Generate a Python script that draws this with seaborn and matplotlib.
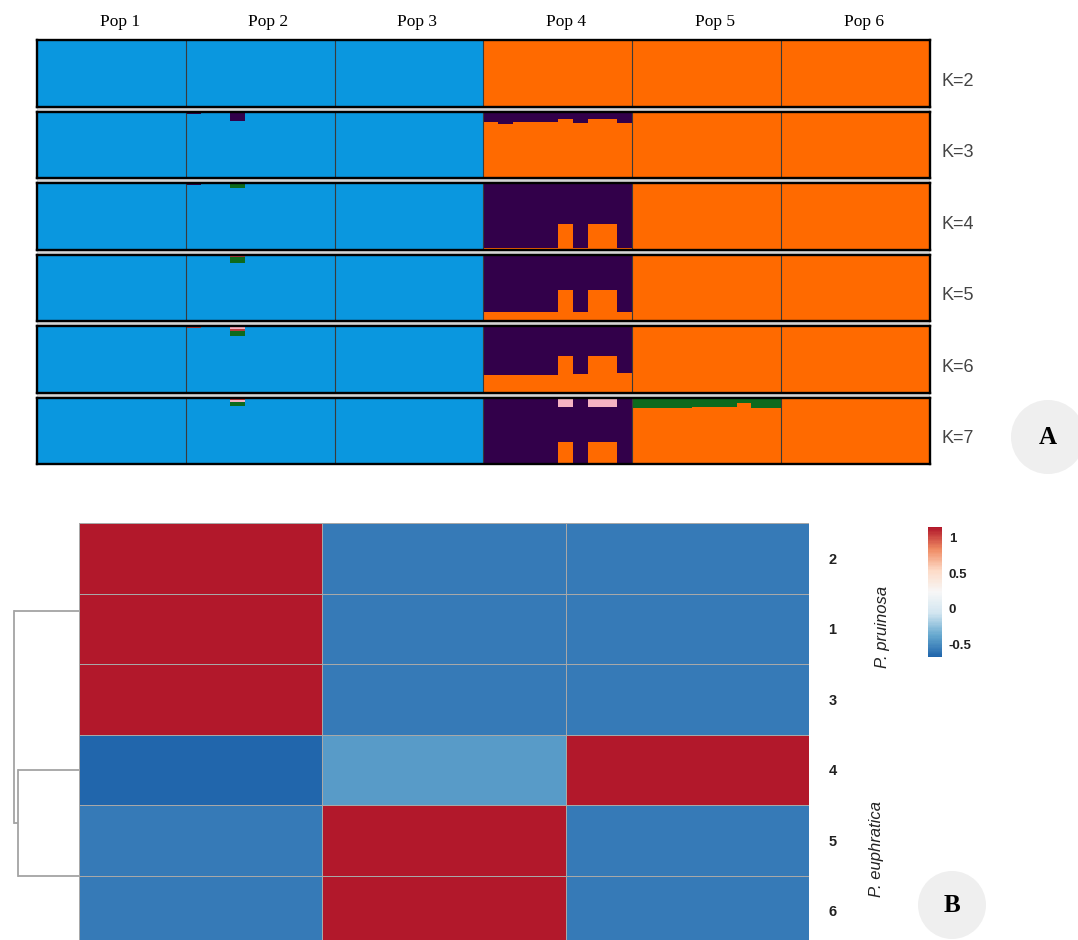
import numpy as np
import pandas as pd
import matplotlib
matplotlib.use("Agg")
import matplotlib.pyplot as plt
import seaborn as sns
from matplotlib.colors import LinearSegmentedColormap
from matplotlib.patches import Circle, Rectangle
import matplotlib.transforms as mtransforms

# ====================== DATA : panel A (STRUCTURE) ======================
pops = ["Pop 1", "Pop 2", "Pop 3", "Pop 4", "Pop 5", "Pop 6"]
k_values = [2, 3, 4, 5, 6, 7]
k_labels = ["K=2", "K=3", "K=4", "K=5", "K=6", "K=7"]
n_ind = 10  # individuals per population

# Pop 2 admixed individuals
k3_pop2_purple = [0.04, 0, 0, 0.15, 0, 0, 0, 0, 0, 0]
k4_pop2_purple = [0.03, 0, 0, 0.00, 0, 0, 0, 0, 0, 0]
k4_pop2_green = [0.00, 0, 0, 0.07, 0, 0, 0, 0, 0, 0]
k5_pop2_green = [0.00, 0, 0, 0.10, 0, 0, 0, 0, 0, 0]
k5_pop2_red = [0.03, 0, 0, 0.035, 0, 0, 0, 0, 0, 0]
k6_pop2_green = [0.00, 0, 0, 0.07, 0, 0, 0, 0, 0, 0]
k6_pop2_red = [0.03, 0, 0, 0.03, 0, 0, 0, 0, 0, 0]
k6_pop2_pink = [0.00, 0, 0, 0.05, 0, 0, 0, 0, 0, 0]
k7_pop2_green = [0.00, 0, 0, 0.055, 0, 0, 0, 0, 0, 0]
k7_pop2_pink = [0.00, 0, 0, 0.035, 0, 0, 0, 0, 0, 0]
k7_pop2_red = [0.03, 0, 0, 0.035, 0, 0, 0, 0, 0, 0]

# Pop 4 admixture
k3_pop4_purple = [0.16, 0.19, 0.16, 0.16, 0.16, 0.11, 0.18, 0.11, 0.11, 0.18]
k4_pop4_orange = [0.03, 0.02, 0.02, 0.02, 0.02, 0.39, 0.02, 0.39, 0.39, 0.02]
k5_pop4_orange = [0.13, 0.13, 0.13, 0.13, 0.13, 0.46, 0.13, 0.46, 0.46, 0.13]
k6_pop4_orange = [0.26, 0.26, 0.27, 0.27, 0.27, 0.55, 0.28, 0.55, 0.55, 0.30]
k7_pop4_orange = [0.00, 0.00, 0.00, 0.00, 0.00, 0.33, 0.00, 0.33, 0.33, 0.00]
k7_pop4_pink = [0.00, 0.00, 0.00, 0.00, 0.00, 0.14, 0.00, 0.14, 0.14, 0.02]

# Pop 5 admixture (K=7)
k7_pop5_green = [0.16, 0.16, 0.16, 0.16, 0.15, 0.15, 0.15, 0.09, 0.16, 0.16]

# ====================== DATA : panel B (heatmap) ======================
hm_rows = ["2", "1", "3", "4", "5", "6"]
hm_col1 = [1.155, 1.155, 1.155, -0.680, -0.577, -0.577]
hm_col2 = [-0.577, -0.577, -0.577, -0.440, 1.155, 1.155]
hm_col3 = [-0.577, -0.577, -0.577, 1.148, -0.577, -0.577]
cbar_ticks = [1, 0.5, 0, -0.5]
cbar_ticklabels = ["1", "0.5", "0", "-0.5"]
species = ["P. pruinosa", "P. euphratica"]

# ====================== STYLE ======================
sns.set_style("white")
plt.rcParams["font.family"] = ["Liberation Sans", "DejaVu Sans"]

colors = {"blue": "#0A97DF", "orange": "#FF6A00", "purple": "#32004A",
          "green": "#0D6A1D", "red": "#B8393B", "pink": "#F6B3C3"}
stack_order = {
    2: ["orange", "blue"],
    3: ["orange", "blue", "purple"],
    4: ["orange", "blue", "purple", "green"],
    5: ["orange", "blue", "purple", "green", "red"],
    6: ["orange", "blue", "purple", "green", "red", "pink"],
    7: ["orange", "blue", "purple", "green", "pink", "red"],
}
majority = {k: (["blue"] * 3 + ["orange"] * 3) if k <= 3 else
            (["blue"] * 3 + ["purple", "orange", "orange"]) for k in k_values}
minor = {
    2: {},
    3: {("purple", 1): k3_pop2_purple, ("purple", 3): k3_pop4_purple},
    4: {("purple", 1): k4_pop2_purple, ("green", 1): k4_pop2_green,
        ("orange", 3): k4_pop4_orange},
    5: {("green", 1): k5_pop2_green, ("red", 1): k5_pop2_red,
        ("orange", 3): k5_pop4_orange},
    6: {("green", 1): k6_pop2_green, ("red", 1): k6_pop2_red,
        ("pink", 1): k6_pop2_pink, ("orange", 3): k6_pop4_orange},
    7: {("green", 1): k7_pop2_green, ("pink", 1): k7_pop2_pink,
        ("red", 1): k7_pop2_red, ("orange", 3): k7_pop4_orange,
        ("pink", 3): k7_pop4_pink, ("green", 4): k7_pop5_green},
}


def membership(k):
    n = n_ind * len(pops)
    q = {c: np.zeros(n) for c in stack_order[k]}
    for p, maj in enumerate(majority[k]):
        sl = slice(p * n_ind, (p + 1) * n_ind)
        q[maj][sl] = 1.0
        for (c, pp), vals in minor[k].items():
            if pp == p:
                v = np.asarray(vals, float)
                q[c][sl] += v
                q[maj][sl] -= v
    return q


W, H = 1078, 940
fig = plt.figure(figsize=(W / 100, H / 100), dpi=100)

# ---------------- panel A ----------------
x0, x1 = 37, 930
row_top0, row_h, row_step = 40, 66.5, 71.5
fig.patches.append(Rectangle((x0 / W, 1 - (row_top0 + 5 * row_step + row_h) / H),
                             (x1 - x0) / W, (5 * row_step + row_h) / H,
                             transform=fig.transFigure, facecolor="#D4D4D4",
                             edgecolor="none", zorder=-1))
n_tot = n_ind * len(pops)
xs = np.arange(n_tot) + 0.5
for i, k in enumerate(k_values):
    top = row_top0 + i * row_step
    ax = fig.add_axes([x0 / W, 1 - (top + row_h) / H, (x1 - x0) / W, row_h / H])
    q = membership(k)
    bottom = np.zeros(n_tot)
    for c in stack_order[k]:
        ax.bar(xs, q[c], bottom=bottom, width=1.0, color=colors[c],
               linewidth=0, antialiased=False)
        bottom += q[c]
    for b in range(1, len(pops)):
        ax.axvline(b * n_ind, color="#3A3A3A", lw=0.8)
    ax.set_xlim(0, n_tot)
    ax.set_ylim(0, 1)
    ax.set_xticks([])
    ax.set_yticks([])
    for s in ax.spines.values():
        s.set_visible(True)
        s.set_color("black")
        s.set_linewidth(1.7)
    ax.text(1.031, 0.38, k_labels[i], transform=ax.transAxes, ha="center",
            va="center", fontsize=13, color="#444444")
    if i == 0:
        for p, name in enumerate(pops):
            ax.text(p * n_ind + n_ind / 2 + 0.55, 1.27, name,
                    transform=mtransforms.blended_transform_factory(ax.transData, ax.transAxes),
                    ha="center", va="center", fontsize=12.5, color="black",
                    family=["Liberation Serif", "DejaVu Serif"])

# ---------------- panel B ----------------
hm_left, hm_right, hm_top, row_px = 79, 809, 523, 70.5
hm_h = row_px * len(hm_rows)
hm_ax = fig.add_axes([hm_left / W, 1 - (hm_top + hm_h) / H,
                      (hm_right - hm_left) / W, hm_h / H])
cb_ax = fig.add_axes([928 / W, 1 - 657 / H, 14 / W, 130 / H])
den_ax = fig.add_axes([14 / W, 1 - (hm_top + hm_h) / H, (hm_left - 14) / W, hm_h / H])

df = pd.DataFrame({"c1": hm_col1, "c2": hm_col2, "c3": hm_col3}, index=hm_rows)
cmap = LinearSegmentedColormap.from_list(
    "rb", ["#2166AC", "#67A9CF", "#D1E5F0", "#F7F7F7", "#FDDBC7", "#EF8A62", "#B2182B"], N=100)
vmin, vmax = df.values.min(), df.values.max()
sns.heatmap(df, ax=hm_ax, cmap=cmap, vmin=vmin, vmax=vmax, linewidths=0.6,
            linecolor="#A8A8A8", cbar_ax=cb_ax, xticklabels=False,
            yticklabels=hm_rows, cbar_kws={"ticks": cbar_ticks})
hm_ax.yaxis.tick_right()
hm_ax.tick_params(axis="y", length=0, pad=14, labelsize=10.5, rotation=0)
for t in hm_ax.get_yticklabels():
    t.set_fontweight("bold")
    t.set_color("#222222")
hm_ax.set_ylabel("")

cb = hm_ax.collections[0].colorbar
cb.outline.set_visible(False)
cb.set_ticks(cbar_ticks)
cb.set_ticklabels(cbar_ticklabels)
cb_ax.tick_params(length=0, labelsize=9.5, pad=5)
for t in cb_ax.get_yticklabels():
    t.set_fontweight("bold")
    t.set_color("#222222")

bt = mtransforms.blended_transform_factory(hm_ax.transAxes, hm_ax.transData)
hm_ax.text(1.1, 1.475, species[0], transform=bt, rotation=90, ha="center",
           va="center", fontsize=12, style="italic", color="#222222")
hm_ax.text(1.092, 4.62, species[1], transform=bt, rotation=90, ha="center",
           va="center", fontsize=12, style="italic", color="#222222")

# ---- row dendrogram (complete linkage, euclidean) ----
X = df.values
clusters = [{"members": [i], "pos": i + 0.5, "h": 0.0} for i in range(len(X))]
links = []
while len(clusters) > 1:
    best = None
    for a in range(len(clusters)):
        for b in range(a + 1, len(clusters)):
            d = max(np.linalg.norm(X[i] - X[j])
                    for i in clusters[a]["members"] for j in clusters[b]["members"])
            key = (round(d, 9), -min(clusters[a]["members"] + clusters[b]["members"]))
            if best is None or key < best[0]:
                best = (key, a, b, d)
    _, a, b, d = best
    ca, cbb = clusters[a], clusters[b]
    links.append((ca, cbb, d))
    new = {"members": ca["members"] + cbb["members"],
           "pos": (ca["pos"] + cbb["pos"]) / 2, "h": d}
    clusters = [c for idx, c in enumerate(clusters) if idx not in (a, b)] + [new]

root_h = links[-1][2]
dcol = "#A4A4A4"
for ca, cbb, d in links:
    if d < 1e-9:
        continue  # identical rows: zero-height merges are invisible
    den_ax.plot([ca["h"], d], [ca["pos"], ca["pos"]], color=dcol, lw=1.3,
                clip_on=False, solid_capstyle="butt")
    den_ax.plot([cbb["h"], d], [cbb["pos"], cbb["pos"]], color=dcol, lw=1.3,
                clip_on=False, solid_capstyle="butt")
    den_ax.plot([d, d], [ca["pos"], cbb["pos"]], color=dcol, lw=1.3,
                clip_on=False, solid_capstyle="projecting")
den_ax.set_xlim(root_h, 0)
den_ax.set_ylim(len(X), 0)
den_ax.set_axis_off()

# ---------------- panel letters ----------------
ov = fig.add_axes([0, 0, 1, 1], zorder=10)
ov.set_xlim(0, W)
ov.set_ylim(H, 0)
ov.set_axis_off()
ov.patch.set_alpha(0)
for (cx, cy, r, lab) in [(1048, 437, 37, "A"), (952, 905, 34, "B")]:
    ov.add_patch(Circle((cx, cy), r, facecolor="#EFEFEF", edgecolor="none"))
    ov.text(cx, cy, lab, ha="center", va="center", fontsize=18, fontweight="bold",
            family=["Liberation Serif", "DejaVu Serif"], color="black")

fig.savefig("out.png", dpi=100)
